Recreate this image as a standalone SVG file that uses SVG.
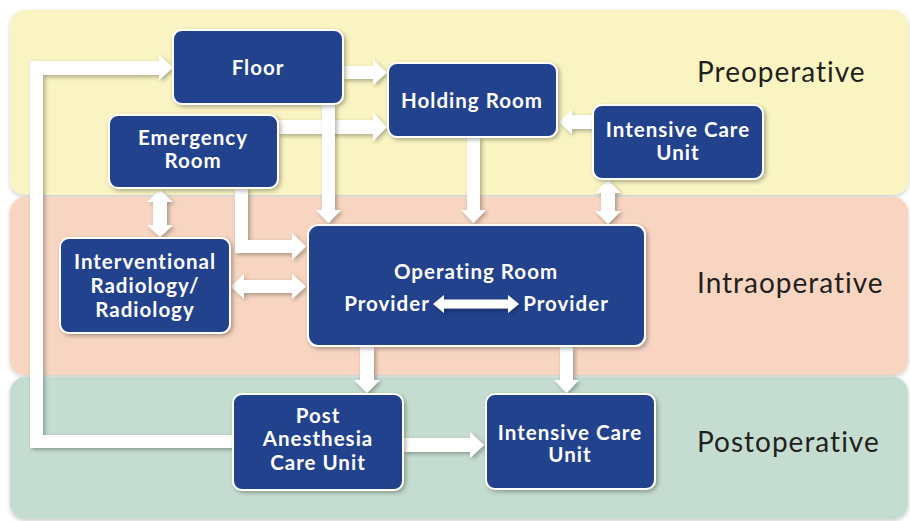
<svg xmlns="http://www.w3.org/2000/svg" width="910" height="521" viewBox="0 0 910 521">
<defs>
<filter id="sh" x="-20%" y="-20%" width="140%" height="140%">
<feDropShadow dx="2" dy="2" stdDeviation="2" flood-color="#000" flood-opacity="0.3"/>
</filter>
<filter id="bsh" x="-5%" y="-5%" width="110%" height="115%">
<feDropShadow dx="0" dy="2" stdDeviation="2" flood-color="#000" flood-opacity="0.2"/>
</filter>
<style>
.band{filter:url(#bsh)}
.node rect{fill:#23438e;stroke:#fff;stroke-width:2;filter:url(#sh)}
.node text{fill:#fff;font-family:Lato,"Open Sans",sans-serif;font-weight:700;font-size:20.5px;letter-spacing:1px;text-anchor:middle}
.phase{fill:#231f20;font-family:Lato,"Open Sans",sans-serif;font-size:28px;letter-spacing:1px}
.arr{fill:#fff;filter:url(#sh)}
</style>
</defs>
<rect width="910" height="521" fill="#fff"/>
<g id="bands">
<rect class="band" x="10" y="10" width="898" height="185" rx="15" fill="#f9f4c1"/>
<rect class="band" x="10" y="197" width="898" height="178" rx="15" fill="#f7d5c1"/>
<rect class="band" x="10" y="377" width="898" height="142" rx="15" fill="#c5ddd0"/>
<text class="phase" x="697" y="82">Preoperative</text>
<text class="phase" x="697" y="293">Intraoperative</text>
<text class="phase" x="697" y="452">Postoperative</text>
</g>
<g id="connectors">
<path class="arr" d="M234,435 H43 V75 H159 V80 L173,67.5 L159,55 V61 H30 V448 H234 Z"/>
<path class="arr" d="M343,66 H373 V60 L387,72.5 L373,85 V79 H343 Z"/>
<path class="arr" d="M278,120 H373 V113 L387,127 L373,141 V134 H278 Z"/>
<path class="arr" d="M593,115 H572 V110 L559,122 L572,134 V129 H593 Z"/>
<path class="arr" d="M322,104 H335 V210 H341 L328.5,223 L316,210 H322 Z"/>
<path class="arr" d="M467,137 H480 V210 H486 L473.5,223 L461,210 H467 Z"/>
<path class="arr" d="M608,180 L621,193 H615 V211 H621 L608,224 L595,211 H601 V193 H595 Z"/>
<path class="arr" d="M160,190 L173,202 H167 V225 H173 L160,237 L147,225 H153 V202 H147 Z"/>
<path class="arr" d="M235,188 H248 V240 H292 V233 L306,246.5 L292,260 V253 H235 Z"/>
<path class="arr" d="M231,286.5 L244,274 V280 H292 V274 L306,286.5 L292,299 V293 H244 V299 Z"/>
<path class="arr" d="M360,347 H374 V380 H380 L367,393 L354,380 H360 Z"/>
<path class="arr" d="M560,347 H573 V380 H579 L566.5,393 L554,380 H560 Z"/>
<path class="arr" d="M403,438 H470 V432 L484,445 L470,458 V452 H403 Z"/>
</g>
<g id="floor" class="node"><rect x="173" y="30" width="170" height="74" rx="9"/><text x="258" y="75">Floor</text></g>
<g id="holding" class="node"><rect x="388" y="63" width="169" height="74" rx="9"/><text x="472" y="108">Holding Room</text></g>
<g id="emergency" class="node"><rect x="109" y="115" width="169" height="73" rx="9"/><text x="193" y="145">Emergency</text><text x="193" y="168">Room</text></g>
<g id="icu-pre" class="node"><rect x="593" y="105" width="170" height="74" rx="9"/><text x="678" y="137">Intensive Care</text><text x="678" y="160">Unit</text></g>
<g id="ir" class="node"><rect x="60" y="238" width="170" height="95" rx="9"/><text x="145" y="269">Interventional</text><text x="145" y="293">Radiology/</text><text x="145" y="317">Radiology</text></g>
<g id="or" class="node"><rect x="308" y="225" width="337" height="121" rx="10"/><text x="476" y="279">Operating Room</text><text x="387" y="311">Provider</text><text x="566" y="311">Provider</text>
<path class="arr" d="M433,304 L444,295 V299.5 H508 V295 L519,304 L508,313 V308.5 H444 V313 Z"/></g>
<g id="pacu" class="node"><rect x="233" y="394" width="170" height="96" rx="9"/><text x="318" y="423">Post</text><text x="318" y="446">Anesthesia</text><text x="318" y="470">Care Unit</text></g>
<g id="icu-post" class="node"><rect x="486" y="394" width="169" height="95" rx="9"/><text x="570" y="440">Intensive Care</text><text x="570" y="462">Unit</text></g>
</svg>
